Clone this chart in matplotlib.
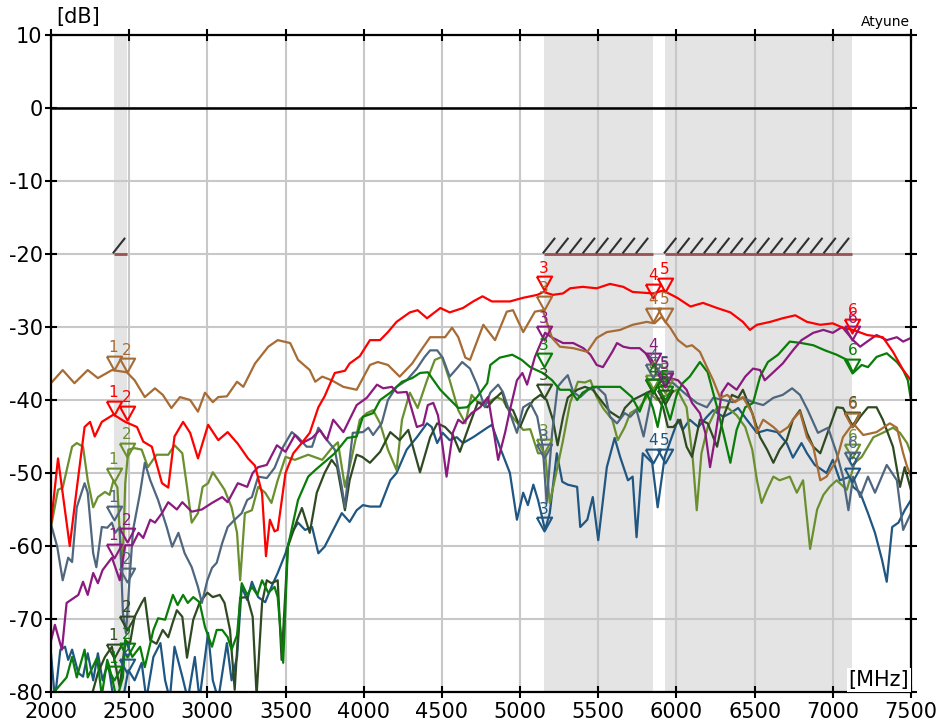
import numpy as np
import matplotlib
matplotlib.use("Agg")
import matplotlib.pyplot as plt

plt.rcParams['font.family'] = ['DejaVu Sans']
plt.rcParams['axes.unicode_minus'] = False

# frequency / level pairs (MHz, dB) for each measured trace
red_trace = [(2000, -57), (2045, -48), (2120, -60), (2160, -53), (2215, -43.7), (2250, -43), (2280, -45),
             (2325, -43), (2400, -42), (2475, -43), (2550, -43.7), (2590, -45.7), (2645, -46.4), (2710, -51.4),
             (2750, -52), (2790, -45), (2845, -43), (2890, -44.5), (2940, -48), (3005, -43.4), (3070, -45.5),
             (3130, -44.4), (3195, -46), (3260, -48), (3305, -49), (3350, -52.8), (3375, -61.4), (3400, -56.4),
             (3430, -58), (3450, -57.8), (3500, -50), (3550, -47.3), (3600, -46), (3655, -44.5), (3710, -41),
             (3750, -39.5), (3815, -36.3), (3880, -36), (3910, -35), (3975, -34), (4040, -31.8), (4105, -31.8),
             (4155, -30.7), (4210, -29.3), (4295, -28), (4345, -27.7), (4405, -28.8), (4490, -27.4), (4550, -28),
             (4635, -27.4), (4700, -26.5), (4760, -25.8), (4820, -26.5), (4935, -26.5), (5020, -26), (5110, -25.6),
             (5150, -25.2), (5210, -25.6), (5275, -25.4), (5320, -24.7), (5400, -24.5), (5490, -24.7), (5575, -24.1),
             (5660, -24.5), (5720, -25.2), (5850, -25.4), (5915, -25), (6005, -26), (6090, -27.2), (6170, -26.7),
             (6260, -27.4), (6345, -28), (6425, -29.3), (6470, -30.4), (6515, -29.7), (6600, -29.3), (6680, -28.8),
             (6760, -28.4), (6835, -29.3), (6920, -29.7), (7000, -29.5), (7065, -30.1), (7130, -30.4), (7220, -31.1),
             (7320, -31.4), (7385, -33.4), (7450, -35.9), (7500, -37.3)]

brown_trace = [(2000, -37.7), (2075, -35.9), (2150, -37.7), (2235, -35.9), (2300, -37), (2390, -35.9), (2485, -36.2),
               (2535, -37.3), (2600, -39.6), (2665, -38.4), (2715, -39.3), (2770, -41.1), (2825, -39.6), (2890, -40),
               (2940, -41.6), (2985, -39), (3035, -40.3), (3070, -39.6), (3125, -39.5), (3190, -37.5), (3230, -38.2),
               (3305, -35), (3390, -32.7), (3450, -31.8), (3530, -32.2), (3580, -34.5), (3655, -35.9), (3690, -37.5),
               (3735, -36.8), (3795, -37.3), (3870, -38.2), (3955, -38.6), (4040, -35.2), (4090, -34.8), (4155, -35.2),
               (4230, -36.8), (4310, -35), (4360, -33.4), (4425, -31.4), (4520, -31.4), (4565, -30.1), (4605, -31.4),
               (4650, -34.2), (4680, -34.5), (4765, -29.7), (4840, -31.8), (4915, -27.9), (4955, -27.7), (5020, -30.7),
               (5095, -27.9), (5145, -27.7), (5205, -31.5), (5255, -32.7), (5340, -32.9), (5430, -33.4), (5490, -31.5),
               (5555, -30.7), (5640, -30.4), (5720, -29.7), (5810, -29.3), (5860, -29.5), (5905, -28.6), (5960, -30.1),
               (6010, -31.8), (6065, -32.7), (6100, -32.5), (6150, -33.4), (6195, -35.5), (6235, -37.3), (6280, -39.7),
               (6325, -39.3), (6375, -40.3), (6425, -39.6), (6485, -41.8), (6515, -44.4), (6555, -42.7), (6620, -43.7),
               (6660, -44.5), (6715, -43.7), (6745, -42.7), (6790, -41.6), (6835, -45.1), (6875, -46.4), (6920, -51),
               (6960, -50.5), (7025, -48.2), (7065, -45.1), (7130, -43.2), (7195, -44.8), (7280, -44.4), (7365, -43.2),
               (7410, -43.8), (7450, -47.3), (7475, -49.1), (7500, -50.5)]

purple_trace = [(2000, -73), (2025, -70.8), (2070, -74.2), (2100, -67.8), (2175, -66.7), (2205, -64.9), (2235, -66.7),
                (2270, -63.7), (2300, -65.1), (2330, -63.3), (2390, -61.6), (2440, -64.7), (2475, -59.9), (2520, -59.9),
                (2560, -58.2), (2590, -58.9), (2635, -56.4), (2665, -56.8), (2710, -55.5), (2750, -54), (2805, -55),
                (2840, -54), (2900, -55.3), (2965, -55), (3030, -54.1), (3095, -53.3), (3130, -54), (3195, -51.4),
                (3255, -51.9), (3290, -50), (3325, -49.2), (3380, -48.9), (3445, -46.2), (3500, -47.1), (3560, -44.8),
                (3605, -45.9), (3670, -45.2), (3720, -44.1), (3765, -45.5), (3805, -42.7), (3870, -44.4), (3955, -40.7),
                (4020, -39.7), (4085, -37.9), (4125, -38.4), (4180, -38.2), (4215, -39), (4275, -38.9), (4340, -43.7),
                (4380, -43.4), (4410, -40.7), (4445, -40.4), (4475, -42.1), (4505, -46.4), (4530, -50.5), (4570, -44.5),
                (4605, -42.7), (4635, -43.2), (4690, -41.8), (4745, -41), (4795, -39.6), (4830, -44.1), (4860, -48.2),
                (4905, -44.4), (4935, -41.4), (4980, -37.3), (5015, -36.3), (5045, -37.9), (5095, -34.1), (5160, -30.8),
                (5210, -31.5), (5275, -32.2), (5340, -32.2), (5405, -32.9), (5450, -33.8), (5490, -35.2), (5530, -35.5),
                (5590, -33.4), (5620, -32.2), (5660, -32.7), (5705, -32.9), (5765, -32.9), (5830, -34.1), (5875, -35.7),
                (5910, -36.8), (5960, -37), (6010, -37.3), (6065, -38.6), (6100, -40.4), (6150, -41.8), (6185, -44.5),
                (6215, -49.2), (6245, -45.5), (6290, -39), (6330, -37.7), (6385, -38.6), (6440, -36.8), (6490, -35.7),
                (6535, -35.9), (6565, -37.3), (6620, -36.2), (6680, -35), (6745, -33.2), (6800, -31.8), (6875, -30.8),
                (6940, -30.4), (7000, -30.8), (7060, -30), (7130, -31.8), (7175, -32.7), (7220, -32), (7280, -31.1),
                (7345, -31.8), (7410, -31.4), (7450, -32), (7500, -31.5)]

green_trace = [(2000, -80.5), (2100, -78), (2135, -75.2), (2165, -78), (2215, -74.2), (2235, -78), (2295, -75.3),
               (2325, -80.5), (2360, -75.6), (2390, -78), (2420, -81), (2460, -78), (2475, -72.9), (2520, -75.2),
               (2570, -73.8), (2600, -76.6), (2655, -71.5), (2685, -69.9), (2730, -70.1), (2780, -66.7), (2810, -68.1),
               (2845, -66.7), (2875, -67.8), (2910, -67), (2950, -67.7), (2985, -71.1), (3030, -73.8), (3060, -71.5),
               (3095, -71.5), (3130, -72.5), (3155, -74.2), (3190, -72.2), (3220, -65.1), (3255, -66.7), (3285, -65.6),
               (3320, -66.7), (3350, -64.7), (3390, -66.4), (3430, -65.6), (3450, -67), (3485, -76), (3515, -60.1),
               (3580, -53.7), (3645, -50.5), (3690, -49.6), (3750, -48.5), (3815, -47.3), (3850, -46.4), (3895, -45.2),
               (3955, -45), (3995, -42.3), (4060, -41.8), (4105, -40), (4170, -39), (4245, -37.5), (4310, -37),
               (4360, -36.3), (4410, -36.2), (4490, -38.6), (4540, -39.7), (4605, -41.1), (4660, -41), (4725, -39.6),
               (4790, -37.7), (4810, -35.2), (4870, -34.2), (4950, -33.8), (5010, -34.5), (5065, -35.5), (5145, -36.3),
               (5205, -37.3), (5255, -38.6), (5320, -38.6), (5365, -40), (5400, -39), (5465, -38.2), (5555, -38.2),
               (5640, -38.2), (5715, -39.6), (5765, -41.6), (5810, -39), (5850, -41.1), (5880, -43.7), (5915, -39.7),
               (5960, -42.7), (6005, -39), (6040, -37.7), (6085, -36.8), (6150, -34.8), (6200, -36.2), (6260, -41),
               (6300, -44.5), (6345, -48.6), (6385, -44.1), (6440, -41), (6490, -40.4), (6535, -36.8), (6585, -34.8),
               (6650, -33.8), (6725, -32), (6800, -32.2), (6875, -32.5), (6950, -33.2), (7025, -33.8), (7090, -34.5),
               (7130, -36.3), (7185, -35.2), (7225, -35.5), (7280, -34.1), (7345, -33.6), (7410, -34.8), (7450, -35.9),
               (7480, -37.3), (7500, -40)]

slate_trace = [(2000, -57), (2040, -60.1), (2075, -64.7), (2110, -61.6), (2135, -62.2), (2165, -54.7), (2215, -51.4),
               (2235, -52.7), (2270, -61), (2290, -62.9), (2325, -57.4), (2360, -57.5), (2390, -56.8), (2410, -58.2),
               (2440, -57.4), (2460, -69.2), (2480, -72), (2505, -63.7), (2525, -57.8), (2570, -52.7), (2600, -48.6),
               (2635, -51), (2685, -53.7), (2740, -57.4), (2775, -60.1), (2815, -58.2), (2855, -61), (2900, -62.9),
               (2940, -65.6), (2965, -67.8), (3000, -64.7), (3030, -63), (3060, -62.3), (3095, -59.6), (3130, -57.4),
               (3175, -56.4), (3220, -55.5), (3255, -53.7), (3285, -53.3), (3325, -50.5), (3380, -50.7), (3430, -49.3),
               (3485, -46.4), (3540, -44.4), (3580, -45.1), (3635, -46.4), (3670, -46.4), (3710, -43.8), (3750, -45.1),
               (3815, -46.8), (3860, -51.9), (3880, -54.7), (3910, -48.2), (3930, -44.5), (3995, -44.4), (4030, -43.8),
               (4060, -44.8), (4115, -43.2), (4155, -40), (4210, -38.2), (4275, -37.3), (4340, -35.7), (4390, -34.1),
               (4425, -33.2), (4470, -33.2), (4505, -34.2), (4550, -36.8), (4595, -35.7), (4630, -34.8), (4680, -35.7),
               (4725, -37.9), (4775, -41), (4810, -39), (4860, -37.9), (4890, -38.9), (4950, -42.7), (4980, -44.5),
               (5020, -41), (5065, -40.4), (5110, -42.3), (5145, -46.4), (5170, -54.1), (5205, -44.5), (5240, -38.2),
               (5275, -37.3), (5305, -36.6), (5340, -38.9), (5385, -39.6), (5435, -38.6), (5490, -38.2), (5545, -39.3),
               (5575, -42.3), (5620, -43.2), (5670, -41.8), (5705, -42.3), (5745, -41.4), (5790, -45), (5850, -38.5),
               (5900, -37.5), (5980, -37.7), (6065, -39.3), (6130, -40.4), (6195, -41), (6235, -39.7), (6300, -40),
               (6360, -40.3), (6425, -39.7), (6490, -40.3), (6555, -40.7), (6620, -39.7), (6680, -39.3), (6740, -38.4),
               (6790, -39.3), (6840, -41.4), (6905, -44.5), (6970, -43.8), (7025, -47.3), (7065, -50.5), (7100, -55.1),
               (7130, -50.5), (7175, -53.3), (7225, -50.5), (7270, -52.7), (7345, -48.9), (7410, -51), (7450, -57.8),
               (7500, -55.5)]

darkolive_trace = [(2000, -81), (2260, -80.5), (2300, -77.4), (2345, -75.2), (2390, -73.8), (2410, -76), (2440, -79.4),
                   (2475, -72.9), (2505, -73.4), (2535, -69.7), (2580, -67.8), (2600, -67.1), (2635, -72.9),
                   (2675, -73.4), (2715, -71.5), (2750, -72.5), (2780, -70.4), (2805, -68.8), (2840, -69.7),
                   (2870, -75.3), (2910, -70.1), (2950, -67.8), (3000, -66.4), (3035, -67), (3080, -66.7),
                   (3110, -67.8), (3145, -71.5), (3175, -79.7), (3210, -67.1), (3255, -67), (3290, -69.7),
                   (3315, -80.5), (3350, -67.8), (3380, -64.7), (3410, -65.1), (3450, -64.7), (3475, -75.6),
                   (3515, -60.1), (3575, -56.4), (3605, -54.8), (3655, -58.2), (3700, -52.7), (3750, -50),
                   (3795, -48.2), (3830, -49.2), (3880, -55.1), (3910, -51), (3955, -47.5), (3990, -47.8),
                   (4040, -48.6), (4105, -47.1), (4170, -44.4), (4230, -45.5), (4285, -44.1), (4360, -49.9),
                   (4425, -45.1), (4470, -43.2), (4520, -43.7), (4570, -44.8), (4615, -47.1), (4680, -43.2),
                   (4730, -40.3), (4790, -41), (4830, -40), (4885, -38.9), (4915, -41), (4955, -41.4), (5000, -43.7),
                   (5045, -41.4), (5085, -40), (5130, -39.3), (5170, -40), (5210, -42.7), (5240, -46.2), (5275, -42.3),
                   (5305, -39.7), (5365, -38.6), (5415, -38.2), (5465, -38.6), (5530, -40.4), (5575, -41.6),
                   (5640, -42.5), (5670, -41.1), (5720, -40), (5785, -39.3), (5850, -38.6), (5915, -41), (5945, -43.7),
                   (5980, -43.7), (6025, -42.7), (6065, -46.4), (6100, -47.8), (6150, -42.7), (6200, -43.2),
                   (6260, -46.4), (6300, -42.3), (6355, -39.3), (6395, -39.7), (6425, -38.6), (6485, -41.8),
                   (6535, -45.1), (6580, -46.8), (6620, -48.6), (6660, -46.8), (6705, -45.5), (6745, -42.7),
                   (6790, -41.4), (6835, -44.5), (6875, -46.4), (6920, -47.3), (6980, -43.7), (7025, -41),
                   (7065, -41.1), (7130, -43.7), (7175, -42.3), (7225, -41), (7280, -41), (7320, -42.7), (7385, -46.4),
                   (7430, -51.9), (7460, -49.2), (7500, -52.3)]

olive_trace = [(2000, -57.4), (2045, -52.3), (2075, -52), (2135, -46.4), (2165, -45.9), (2205, -46.4), (2235, -51),
               (2270, -54.7), (2300, -53.3), (2345, -52.6), (2375, -53), (2400, -51), (2425, -52), (2455, -64.7),
               (2475, -51.4), (2495, -46.8), (2535, -46.6), (2580, -46.8), (2620, -49.2), (2675, -47.5), (2750, -47.5),
               (2790, -46.2), (2840, -47.3), (2870, -51.9), (2900, -56.8), (2940, -55.5), (2970, -51.9), (3005, -51.4),
               (3035, -49.9), (3070, -51), (3110, -52.3), (3155, -54.7), (3190, -58.2), (3210, -64.7), (3240, -55.5),
               (3285, -55.1), (3325, -51.9), (3370, -52.7), (3410, -54.1), (3450, -51), (3500, -47.8), (3560, -48.2),
               (3645, -47.5), (3735, -48.2), (3795, -46.6), (3835, -45.8), (3880, -51.9), (3910, -49.2), (3975, -42.7),
               (4020, -41.8), (4060, -41.4), (4105, -43.2), (4155, -46.8), (4210, -49.6), (4245, -42.7), (4295, -39),
               (4345, -41.1), (4405, -37.3), (4455, -34.5), (4500, -34.1), (4550, -37.3), (4605, -41.4), (4650, -43.2),
               (4690, -39.3), (4730, -40.3), (4790, -40.4), (4850, -39.6), (4890, -40), (4950, -42.3), (5020, -44.1),
               (5065, -44), (5115, -47.3), (5160, -47.3), (5190, -54.1), (5235, -49.6), (5275, -45.5), (5320, -40.4),
               (5370, -37.5), (5415, -37.6), (5450, -37.3), (5490, -39.6), (5530, -41.1), (5590, -42.7), (5625, -45.5),
               (5670, -43.7), (5705, -41.8), (5765, -41), (5830, -39), (5875, -40), (5940, -39.3), (6005, -38.6),
               (6065, -41), (6105, -48.2), (6130, -55.1), (6160, -47.3), (6200, -43.7), (6260, -41), (6325, -41),
               (6385, -42.1), (6440, -43.7), (6485, -46.8), (6515, -51), (6545, -54.1), (6580, -52.3), (6620, -50.5),
               (6660, -51), (6725, -50.5), (6770, -52.7), (6810, -51), (6855, -60.4), (6900, -55), (6940, -53),
               (6980, -51.9), (7025, -51), (7090, -52.3), (7140, -48.6), (7185, -47.8), (7260, -45.1), (7320, -44.5),
               (7385, -43.8), (7430, -44.5), (7475, -45.9), (7500, -47.3)]

blue_trace = [(2000, -74.7), (2025, -81), (2060, -74.2), (2090, -73.8), (2110, -75.6), (2135, -74.2), (2175, -77.4),
              (2205, -77.9), (2235, -74.7), (2270, -78.4), (2300, -74.7), (2330, -78.4), (2365, -76), (2400, -81),
              (2460, -81), (2495, -77), (2535, -78.4), (2580, -76), (2610, -81), (2655, -75.2), (2700, -73.3),
              (2730, -78.4), (2760, -81), (2790, -73.8), (2840, -77.9), (2875, -81), (2920, -75.2), (2950, -81),
              (3005, -71.9), (3035, -78.4), (3070, -81), (3125, -73.3), (3155, -78.4), (3190, -75.2), (3220, -65.6),
              (3255, -67.4), (3285, -64.9), (3325, -67), (3370, -67.7), (3410, -65.6), (3450, -63.7), (3500, -61),
              (3540, -58.2), (3580, -56.8), (3625, -57.8), (3670, -57.4), (3710, -61), (3750, -60.1), (3815, -57.4),
              (3860, -55.5), (3910, -56.7), (3955, -55.1), (3995, -54.4), (4040, -54.6), (4105, -54.6), (4170, -51),
              (4210, -50), (4275, -46.8), (4340, -45.1), (4405, -43.2), (4435, -43.7), (4470, -45.9), (4505, -44.5),
              (4550, -45.5), (4595, -45.1), (4635, -45.9), (4700, -45.1), (4790, -43.8), (4820, -43.4), (4870, -46.4),
              (4935, -50), (4980, -56.4), (5020, -52.7), (5050, -54.4), (5085, -51.6), (5115, -53.7), (5160, -57.8),
              (5190, -55.5), (5235, -47.3), (5270, -51.2), (5305, -51.6), (5365, -51.9), (5385, -57.4), (5430, -56.4),
              (5465, -53.3), (5500, -59.2), (5555, -49.2), (5605, -45.2), (5640, -47.8), (5690, -51), (5720, -50.5),
              (5745, -58.8), (5785, -47.3), (5845, -48.6), (5880, -54.7), (5925, -47.8), (6010, -42.7), (6040, -44.1),
              (6085, -42.7), (6140, -43.7), (6195, -42.3), (6235, -41.4), (6300, -42.3), (6345, -41.8), (6395, -41.1),
              (6450, -42.7), (6515, -44.5), (6580, -44.1), (6645, -44.4), (6705, -45.9), (6745, -47.9), (6800, -45.9),
              (6835, -47.3), (6885, -48.9), (6960, -50), (7000, -48.2), (7045, -51), (7110, -50.5), (7130, -51.9),
              (7175, -52.7), (7225, -55.5), (7270, -58.2), (7315, -61.9), (7345, -64.9), (7380, -57.4), (7420, -56.8),
              (7460, -55.1), (7500, -53.7)]

# marker frequencies (band edges) and the level read at each marker per trace
marker_freq = [2400, 2483.5, 5150, 5850, 5925, 7125]
marker_ids = ["1", "2", "3", "4", "5", "6"]
red_marks = [-42, -42.7, -25, -26, -25.2, -30.8]
brown_marks = [-35.9, -36.2, -27.7, -29.3, -29.3, -43.7]
purple_marks = [-61.6, -59.5, -31.8, -35.5, -38.2, -31.8]
green_marks = [-78.4, -75.2, -35.5, -39, -40, -36.3]
slate_marks = [-56.4, -64.9, -48, -37, -38, -49]
darkolive_marks = [-75.3, -71.5, -39.7, -39, -40.5, -43.5]
olive_marks = [-51.2, -47.8, -47.3, -38.5, -39, -48]
blue_marks = [-82, -77.4, -58, -48.6, -48.6, -51.3]

# allowed bands and the -20 dB limit over them
bands = [(2400, 2483.5), (5150, 5850), (5925, 7125)]
limit_db = -20

series = [
    (blue_trace, blue_marks, "#1f5682"),
    (olive_trace, olive_marks, "#6a8f2e"),
    (darkolive_trace, darkolive_marks, "#2f4a22"),
    (slate_trace, slate_marks, "#4e677e"),
    (green_trace, green_marks, "#087d08"),
    (purple_trace, purple_marks, "#8b1a7e"),
    (brown_trace, brown_marks, "#a76b34"),
    (red_trace, red_marks, "#ff0000"),
]

fig = plt.figure(figsize=(9.44, 7.23), dpi=100)
ax = fig.add_axes([0.054, 0.0429, 0.911, 0.9087])

for lo, hi in bands:
    ax.axvspan(lo, hi, color="#e4e4e4", lw=0, zorder=0)

ax.grid(True, color="#c8c8c8", lw=1.5, zorder=1)
ax.set_axisbelow(True)
ax.axhline(0, color="black", lw=1.8, zorder=2)

# limit line with a hatched strip above it
for lo, hi in bands:
    ax.plot([lo, hi], [limit_db, limit_db], color="#9b5252", lw=2, zorder=3, solid_capstyle="butt")
    for x in np.arange(lo, hi - 40, 85):
        ax.plot([x, min(x + 70, hi)], [limit_db + 0.2, limit_db + 2.1], color="#303030", lw=1.5, zorder=3)

# downward triangle with its tip at the marker position
tri = [(-0.55, 1.0), (0.55, 1.0), (0.0, 0.0), (-0.55, 1.0)]

for trace, marks, color in series:
    f, db = np.array(trace).T
    ax.plot(f, db, color=color, lw=1.6, zorder=4)
    ax.plot(marker_freq, marks, linestyle="none", marker=tri, markersize=20,
            markerfacecolor="none", markeredgecolor=color, markeredgewidth=1.5, zorder=5)
    for fm, v, n in zip(marker_freq, marks, marker_ids):
        ax.annotate(n, xy=(fm, v), xytext=(0, 10.5), textcoords="offset points",
                    ha="center", va="bottom", color=color, fontsize=11, zorder=6,
                    annotation_clip=True)

ax.set_xlim(2000, 7500)
ax.set_ylim(-80, 10)
ax.set_xticks(np.arange(2000, 7501, 500))
ax.set_yticks(np.arange(-80, 11, 10))
ax.tick_params(axis="both", labelsize=15, width=1.5, color="black")
ax.tick_params(axis="x", direction="inout", length=8, pad=3, top=True)
ax.tick_params(axis="y", direction="inout", length=8, pad=2, right=True)
for s in ax.spines.values():
    s.set_linewidth(1.6)
    s.set_zorder(7)

ax.text(0.998, 0.003, "[MHz]", transform=ax.transAxes, ha="right", va="bottom", fontsize=15,
        zorder=8, bbox=dict(facecolor="white", edgecolor="none", pad=1.5))
fig.text(0.060, 0.976, "[dB]", ha="left", va="center", fontsize=15)
fig.text(0.964, 0.970, "Atyune", ha="right", va="center", fontsize=10)

fig.savefig("out.png", dpi=100)
